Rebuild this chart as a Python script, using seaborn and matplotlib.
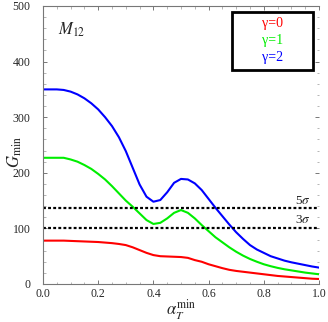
import numpy as np
import pandas as pd
import matplotlib
matplotlib.use("Agg")
import matplotlib.pyplot as plt
from matplotlib.patches import Rectangle
import seaborn as sns

# ---- data ----
alpha = [0, 0.025, 0.05, 0.075, 0.1, 0.125, 0.15, 0.175, 0.2, 0.225, 0.25,
         0.275, 0.3, 0.325, 0.35, 0.375, 0.4, 0.425, 0.45, 0.475, 0.5, 0.525,
         0.55, 0.575, 0.6, 0.625, 0.65, 0.675, 0.7, 0.725, 0.75, 0.775, 0.8,
         0.825, 0.85, 0.875, 0.9, 0.925, 0.95, 0.975, 1.0]
g_gamma0 = [78, 78, 78, 78, 77.5, 77, 76.5, 76, 75.5, 74.5, 73.5,
            72, 70, 66, 61, 56, 52, 50, 49.5, 49, 48.5, 47,
            43, 40, 35.5, 32, 28.5, 25.5, 23.5, 22, 20.5, 19, 17.5,
            16, 14.5, 13.5, 12.5, 11.5, 10.5, 9.5, 9]
g_gamma1 = [227, 227, 227, 227, 224, 220, 214, 207, 198, 188, 176,
            163, 150, 139, 127, 115, 108, 110, 118, 128, 133, 128,
            118, 106, 95, 84, 75, 66, 58, 51, 45, 40, 35.5,
            32, 29, 26.5, 24.5, 22.5, 20.5, 19, 17.5]
g_gamma2 = [350, 350, 350, 349, 346, 341, 334, 325, 314, 300, 284,
            264, 239, 209, 179, 157, 148, 151, 165, 182, 189, 188,
            181, 169, 153, 137, 122, 107, 93, 81, 70, 62, 56,
            50, 46, 42, 39, 36.5, 34, 31.5, 29.5]
series_labels = ["γ=0", "γ=1", "γ=2"]
series_colors = ["#ff0000", "#00ee00", "#0000ff"]
sigma_levels = [136, 101]
sigma_labels = ["5$\\sigma$", "3$\\sigma$"]
x_ticks = [0.0, 0.2, 0.4, 0.6, 0.8, 1.0]
y_ticks = [0, 100, 200, 300, 400, 500]

df = pd.DataFrame({
    "alpha": alpha * 3,
    "G": g_gamma0 + g_gamma1 + g_gamma2,
    "series": [series_labels[0]] * len(alpha) + [series_labels[1]] * len(alpha)
              + [series_labels[2]] * len(alpha),
})

sns.set_theme(style="ticks")
plt.rcParams["font.family"] = ["Liberation Serif", "DejaVu Serif"]
plt.rcParams["mathtext.fontset"] = "stix"

fig = plt.figure(figsize=(3.28, 3.22), dpi=100)
ax = fig.add_axes([43 / 328, 1 - 284 / 322, (319 - 43) / 328, (284 - 6) / 322])

sns.lineplot(data=df, x="alpha", y="G", hue="series", palette=series_colors,
             hue_order=series_labels, linewidth=1.5, ax=ax, legend=False)

for lvl, lab in zip(sigma_levels, sigma_labels):
    ax.axhline(lvl, color="black", linestyle=(0, (1.3, 1.0)), linewidth=1.6)
    ax.text(0.97, lvl + 3, lab, ha="right", va="bottom", fontsize=9.5)

ax.set_xlim(0, 1)
ax.set_ylim(0, 500)
ax.set_xticks(x_ticks)
ax.set_xticklabels([f"{t:.1f}" for t in x_ticks])
ax.set_yticks(y_ticks)
ax.set_xticks(np.arange(0, 1.0001, 0.05), minor=True)
ax.set_yticks(np.arange(0, 501, 20), minor=True)
ax.tick_params(axis="both", which="major", direction="in", length=3,
               width=0.7, color="#777777", labelsize=8.5,
               top=True, right=True)
ax.tick_params(axis="x", which="major", pad=3)
ax.tick_params(axis="y", which="major", pad=9)
ax.tick_params(axis="both", which="minor", direction="in", length=1.8,
               width=0.5, color="#999999", top=True, right=True)
for side in ["left", "bottom", "top"]:
    ax.spines[side].set_color("#777777")
    ax.spines[side].set_linewidth(0.8)
ax.spines["right"].set_visible(False)

ax.set_xlabel(r"$\alpha_T^{\rm min}$", fontsize=12, va="center")
ax.set_ylabel(r"$G_{\rm min}$", fontsize=12, va="center")
ax.xaxis.set_label_coords(0.5, (284 - 310) / 278)
ax.yaxis.set_label_coords((15 - 43) / 276, (284 - 152) / 278)
ax.text(0.055, 0.915, r"$M_{12}$", transform=ax.transAxes, fontsize=12,
        ha="left", va="center")

# legend: boxed coloured labels
x0, x1 = (232 - 43) / 276, (313 - 43) / 276
y0, y1 = (284 - 70) / 278, (284 - 12) / 278
ax.add_patch(Rectangle((x0, y0), x1 - x0, y1 - y0, transform=ax.transAxes,
                       fill=True, facecolor="white", edgecolor="black",
                       linewidth=2.0, zorder=5))
for lab, col, py in zip(series_labels, series_colors, [24, 40.5, 57]):
    ax.text((x0 + x1) / 2, (284 - py) / 278, lab, color=col, fontsize=10,
            ha="center", va="center", transform=ax.transAxes, zorder=6)

fig.savefig("out.png", dpi=100)
